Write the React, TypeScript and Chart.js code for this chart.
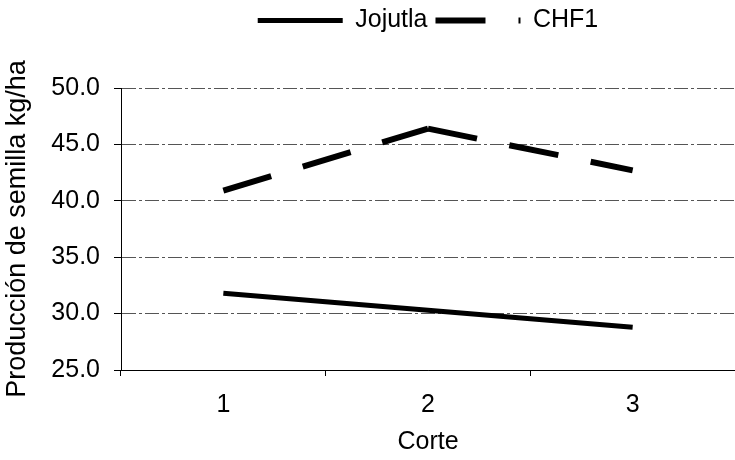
import React, { useEffect, useRef } from "react";
import { Chart, registerables } from "chart.js";

Chart.register(...registerables);

const categories = ["1", "2", "3"];
const jojutla = [31.8, 30.3, 28.8];
const chf1 = [40.9, 46.4, 42.7];
const yTicks = [25, 30, 35, 40, 45, 50];
const seriesNames = ["Jojutla", "CHF1"];

const FONT = "'Liberation Sans', Arial, Helvetica, sans-serif";

export default function App() {
  const ref = useRef<HTMLCanvasElement>(null);

  useEffect(() => {
    if (!ref.current) return;
    const legendFix = {
      id: "legendFix",
      beforeLayout(chart: any) {
        const lg = chart.legend;
        if (lg && !lg.__fixed) {
          const orig = lg.fit.bind(lg);
          lg.fit = function () {
            orig();
            this.height = 88;
          };
          lg.__fixed = true;
        }
      },
    };

    const chart = new Chart(ref.current, {
      type: "line",
      data: {
        labels: categories,
        datasets: [
          {
            label: seriesNames[0],
            data: jojutla,
            borderColor: "#000",
            backgroundColor: "#000",
            borderWidth: 5,
            pointRadius: 0,
            tension: 0,
            borderCapStyle: "butt",
          },
          {
            label: seriesNames[1],
            data: chf1,
            borderColor: "#000",
            backgroundColor: "#000",
            borderWidth: 6,
            pointRadius: 0,
            tension: 0,
            borderDash: [50, 33],
            borderCapStyle: "butt",
            segment: {
              borderDashOffset: (ctx: any) => (ctx.p0DataIndex % 2 === 1 ? 0.001 : 0),
            },
          },
        ],
      },
      options: {
        responsive: false,
        animation: false,
        devicePixelRatio: 1,
        layout: { padding: 0 },
        font: { family: FONT, size: 25 },
        plugins: {
          tooltip: { enabled: false },
          legend: {
            position: "top",
            fullSize: false,
            align: "center",
            labels: {
              usePointStyle: true,
              pointStyle: "line",
              pointStyleWidth: 85,
              padding: 8,
              color: "#000",
              font: { family: FONT, size: 25 },
              generateLabels: (c: any) => {
                const items = (Chart.defaults.plugins.legend.labels as any).generateLabels(c);
                items.forEach((it: any, i: number) => {
                  const ds: any = c.data.datasets[i];
                  it.lineDash = ds.borderDash || [];
                  it.lineDashOffset = 0;
                  it.lineWidth = ds.borderWidth;
                  it.lineCap = "butt";
                  it.strokeStyle = "#000";
                  it.fillStyle = "#000";
                });
                return items;
              },
            },
          },
        },
        scales: {
          x: {
            type: "category",
            offset: true,
            grid: {
              display: true,
              offset: true,
              drawOnChartArea: false,
              drawTicks: true,
              tickLength: 6,
              color: "#000",
              tickColor: "#000",
            },
            border: { display: true, color: "#000", width: 1 },
            ticks: {
              color: "#000",
              padding: 14,
              font: { family: FONT, size: 25 },
              maxRotation: 0,
            },
            title: {
              display: true,
              text: "Corte",
              color: "#000",
              font: { family: FONT, size: 25 },
              padding: { top: 0, bottom: 3 },
            },
            afterFit: (s: any) => {
              s.height = 90;
            },
          },
          y: {
            min: 25,
            max: 50,
            afterBuildTicks: (s: any) => {
              s.ticks = yTicks.map((v) => ({ value: v }));
            },
            grid: {
              color: "#555",
              lineWidth: 1,
              drawTicks: true,
              tickLength: 7,
              tickColor: "#000",
              tickBorderDash: [],
            },
            border: { display: true, color: "#000", width: 1, dash: [14, 3, 3, 3] },
            ticks: {
              color: "#000",
              padding: 14,
              font: { family: FONT, size: 25 },
              callback: (v: any) => Number(v).toFixed(1),
            },
            title: {
              display: true,
              text: "Producción de semilla kg/ha",
              color: "#000",
              font: { family: FONT, size: 27 },
              padding: { top: 1, bottom: 0 },
            },
            afterFit: (s: any) => {
              s.width = 121;
            },
          },
        },
      },
      plugins: [legendFix],
    });
    return () => chart.destroy();
  }, []);

  return (
    <div style={{ position: "fixed", left: 0, top: 0, width: 735, height: 460, background: "#fff" }}>
      <canvas ref={ref} width={735} height={460} />
    </div>
  );
}
